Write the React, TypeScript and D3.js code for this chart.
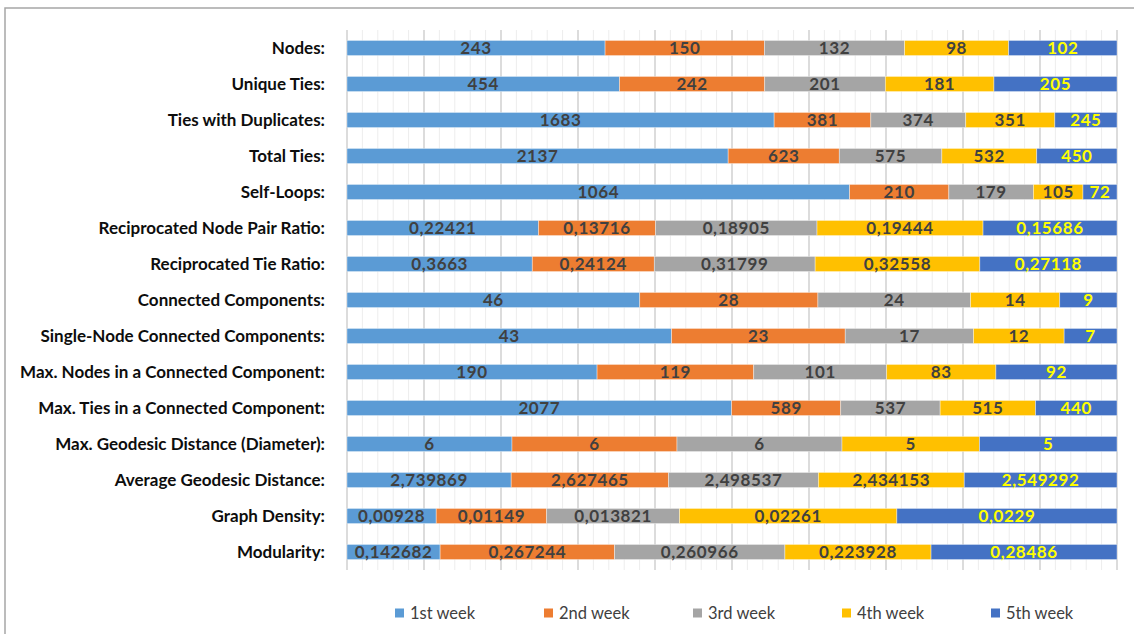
import React from "react";
import * as d3 from "d3";

const categories = [
  "Nodes:",
  "Unique Ties:",
  "Ties with Duplicates:",
  "Total Ties:",
  "Self-Loops:",
  "Reciprocated Node Pair Ratio:",
  "Reciprocated Tie Ratio:",
  "Connected Components:",
  "Single-Node Connected Components:",
  "Max. Nodes in a Connected Component:",
  "Max. Ties in a Connected Component:",
  "Max. Geodesic Distance (Diameter):",
  "Average Geodesic Distance:",
  "Graph Density:",
  "Modularity:",
];

const seriesNames = ["1st week", "2nd week", "3rd week", "4th week", "5th week"];

const week1 = [243, 454, 1683, 2137, 1064, 0.22421, 0.3663, 46, 43, 190, 2077, 6, 2.739869, 0.00928, 0.142682];
const week2 = [150, 242, 381, 623, 210, 0.13716, 0.24124, 28, 23, 119, 589, 6, 2.627465, 0.01149, 0.267244];
const week3 = [132, 201, 374, 575, 179, 0.18905, 0.31799, 24, 17, 101, 537, 6, 2.498537, 0.013821, 0.260966];
const week4 = [98, 181, 351, 532, 105, 0.19444, 0.32558, 14, 12, 83, 515, 5, 2.434153, 0.02261, 0.223928];
const week5 = [102, 205, 245, 450, 72, 0.15686, 0.27118, 9, 7, 92, 440, 5, 2.549292, 0.0229, 0.28486];

const colors = ["#5B9BD5", "#ED7D31", "#A5A5A5", "#FFC000", "#4472C4"];
const labelColors = ["#404040", "#404040", "#404040", "#404040", "#FFFF00"];

const W = 1134;
const H = 634;
const FONT = "Lato, 'Open Sans', sans-serif";

export default function App() {
  const weeks = [week1, week2, week3, week4, week5];
  const rows = categories.map((c, i) => {
    const r: any = { cat: c };
    seriesNames.forEach((s, k) => (r[s] = weeks[k][i]));
    return r;
  });
  const stacked = d3.stack().keys(seriesNames).offset(d3.stackOffsetExpand)(rows);

  const x = d3.scaleLinear().domain([0, 1]).range([347, 1117]);
  const y = d3.scaleBand().domain(categories).range([30, 570]).paddingInner(0.58).paddingOuter(0.29);

  const minorTicks = d3.range(0, 51).map((i) => i / 50);
  const fmt = (v: number) => String(v).replace(".", ",");

  return (
    <svg width={W} height={H} style={{ position: "absolute", left: 0, top: 0, background: "#fff" }}>
      <rect x={5} y={8} width={W + 10} height={H + 10} fill="#fff" stroke="#A6A6A6" strokeWidth={1.5} />
      {minorTicks.map((t, i) => (
        <line
          key={"g" + i}
          x1={x(t)}
          x2={x(t)}
          y1={30}
          y2={570}
          stroke={i % 5 === 0 ? "#D9D9D9" : "#EDEDED"}
          strokeWidth={i % 5 === 0 ? 1.8 : 1}
        />
      ))}
      {stacked.map((layer, k) => (
        <g key={layer.key}>
          {layer.map((d, i) => (
            <rect
              key={i}
              x={x(d[0])}
              y={y(categories[i])!}
              width={x(d[1]) - x(d[0])}
              height={y.bandwidth()}
              fill={colors[k]}
              stroke="#ffffff"
              strokeOpacity={0.5}
              strokeWidth={0.75}
            />
          ))}
        </g>
      ))}
      {stacked.map((layer, k) => (
        <g key={"l" + layer.key}>
          {layer.map((d, i) => (
            <text
              key={i}
              x={(x(d[0]) + x(d[1])) / 2}
              y={y(categories[i])! + y.bandwidth() / 2}
              dy="0.36em"
              textAnchor="middle"
              fontFamily={FONT}
              fontWeight="bold"
              fontSize={17}
              letterSpacing={0.6}
              fill={labelColors[k]}
            >
              {fmt(weeks[k][i])}
            </text>
          ))}
        </g>
      ))}
      {categories.map((c) => (
        <text
          key={c}
          x={325}
          y={y(c)! + y.bandwidth() / 2}
          dy="0.36em"
          textAnchor="end"
          fontFamily={FONT}
          fontWeight="bold"
          fontSize={17}
          fill="#0D0D0D"
        >
          {c}
        </text>
      ))}
      {seriesNames.map((s, k) => (
        <g key={"lg" + s} transform={`translate(${395 + k * 149},613)`}>
          <rect x={0} y={-4.5} width={9} height={9} fill={colors[k]} />
          <text x={15} y={0} dy="0.36em" fontFamily={FONT} fontSize={16.5} fill="#404040">
            {s}
          </text>
        </g>
      ))}
    </svg>
  );
}
